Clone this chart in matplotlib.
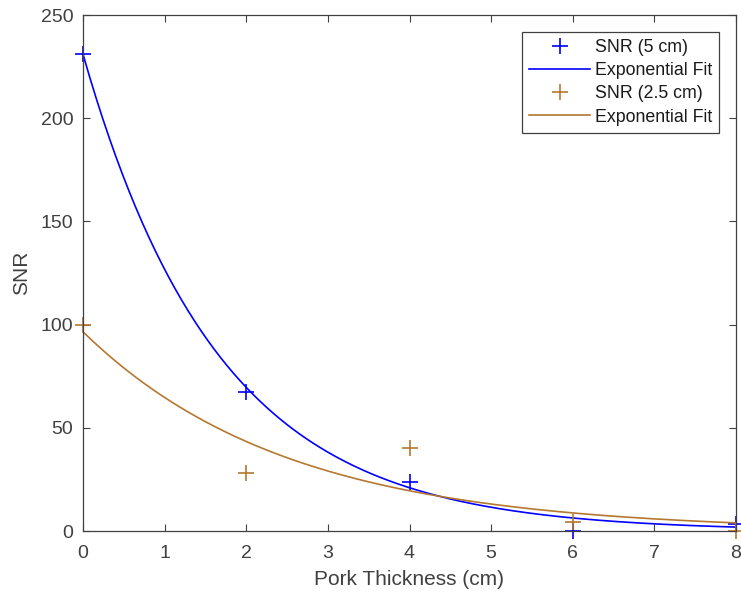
import matplotlib
matplotlib.use('Agg')
import matplotlib.pyplot as plt
import numpy as np

plt.rcParams['font.family'] = ['Liberation Sans', 'DejaVu Sans']

# Measured data
thickness = [0, 2, 4, 6, 8]
snr_5cm = [231, 67.5, 23.5, 0, 3.5]
snr_25cm = [100, 28, 40, 4.5, 0]

# Exponential fit coefficients y = a * exp(b * x)
fit_5cm = (231.0, -0.60)
fit_25cm = (96.5, -0.40)

blue = '#0000ff'
brown = '#b5782f'
gray = '#404040'

fig = plt.figure(figsize=(7.41, 5.96), dpi=100)
ax = fig.add_axes([83 / 741, 1 - 531 / 596, (736 - 83) / 741, (531 - 15) / 596])

xs = np.linspace(0, 8, 300)

ax.plot(thickness, snr_5cm, '+', color=blue, markersize=12, mew=1.2, label='SNR (5 cm)', clip_on=False)
ax.plot(xs, fit_5cm[0] * np.exp(fit_5cm[1] * xs), '-', color=blue, lw=1.2, label='Exponential Fit')
ax.plot(thickness, snr_25cm, '+', color=brown, markersize=12, mew=1.2, label='SNR (2.5 cm)', clip_on=False)
ax.plot(xs, fit_25cm[0] * np.exp(fit_25cm[1] * xs), '-', color=brown, lw=1.2, label='Exponential Fit')

ax.set_xlim(0, 8)
ax.set_ylim(0, 250)
ax.set_xticks(range(0, 9))
ax.set_yticks(range(0, 251, 50))
ax.set_xlabel('Pork Thickness (cm)', fontsize=15, color=gray, labelpad=6)
ax.set_ylabel('SNR', fontsize=15, color=gray, labelpad=7)
ax.tick_params(direction='in', length=5, labelsize=14, colors=gray, top=True, right=True)
ax.tick_params(axis='x', pad=10)
ax.tick_params(axis='y', pad=7)
for s in ax.spines.values():
    s.set_color(gray)
    s.set_linewidth(0.9)

leg = ax.legend(loc='upper right', fontsize=12.8, fancybox=False, framealpha=1,
                edgecolor=gray, handlelength=3.4, handletextpad=0.28,
                borderaxespad=0.95, labelspacing=0.35, borderpad=0.4)
leg.get_frame().set_linewidth(0.9)
for t in leg.get_texts():
    t.set_color('#1a1a1a')

fig.savefig('out.png', dpi=100)
